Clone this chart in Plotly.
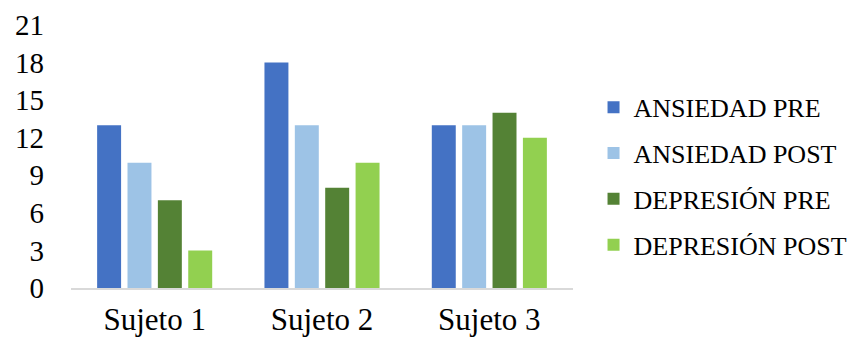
import plotly.graph_objects as go

categories = ["Sujeto 1", "Sujeto 2", "Sujeto 3"]
series_names = ["ANSIEDAD PRE", "ANSIEDAD POST", "DEPRESIÓN PRE", "DEPRESIÓN POST"]
ansiedad_pre = [13, 18, 13]
ansiedad_post = [10, 13, 13]
depresion_pre = [7, 8, 14]
depresion_post = [3, 10, 12]
y_ticks = [0, 3, 6, 9, 12, 15, 18, 21]

colors = ["#4472C4", "#9DC3E6", "#548235", "#92D050"]
values = [ansiedad_pre, ansiedad_post, depresion_pre, depresion_post]

fig = go.Figure()
for i, (name, vals) in enumerate(zip(series_names, values)):
    fig.add_trace(go.Bar(
        x=categories, y=vals, name=name,
        marker=dict(color=colors[i], line=dict(width=0)),
        legendgroup=f"g{i}",
    ))

ff = "Liberation Serif"
fig.update_layout(
    width=854, height=345,
    margin=dict(l=70.5, r=281, t=25, b=56.5, pad=0, autoexpand=False),
    paper_bgcolor="white", plot_bgcolor="white",
    barmode="group", bargap=0.274, bargroupgap=0.211,
    font=dict(family=ff, color="black", size=28),
    showlegend=True,
    legend=dict(
        xref="container", yref="container",
        x=0.695, xanchor="left",
        y=0.757, yanchor="top",
        font=dict(family=ff, size=26, color="black"),
        tracegroupgap=9,
        itemwidth=30,
        maxheight=330,
        borderwidth=0,
        bgcolor="rgba(0,0,0,0)",
    ),
    xaxis=dict(
        automargin=False,
        showline=True, linecolor="#D9D9D9", linewidth=1.5,
        showgrid=False, ticks="", ticklabelstandoff=3,
        tickfont=dict(family=ff, size=31, color="black"),
    ),
    yaxis=dict(
        automargin=False,
        range=[0, 21], tickvals=y_ticks, ticktext=[str(v) for v in y_ticks],
        showgrid=False, showline=False, zeroline=False, ticks="",
        ticklabelstandoff=26,
        tickfont=dict(family=ff, size=29, color="black"),
    ),
)

fig.write_html("out.html")
